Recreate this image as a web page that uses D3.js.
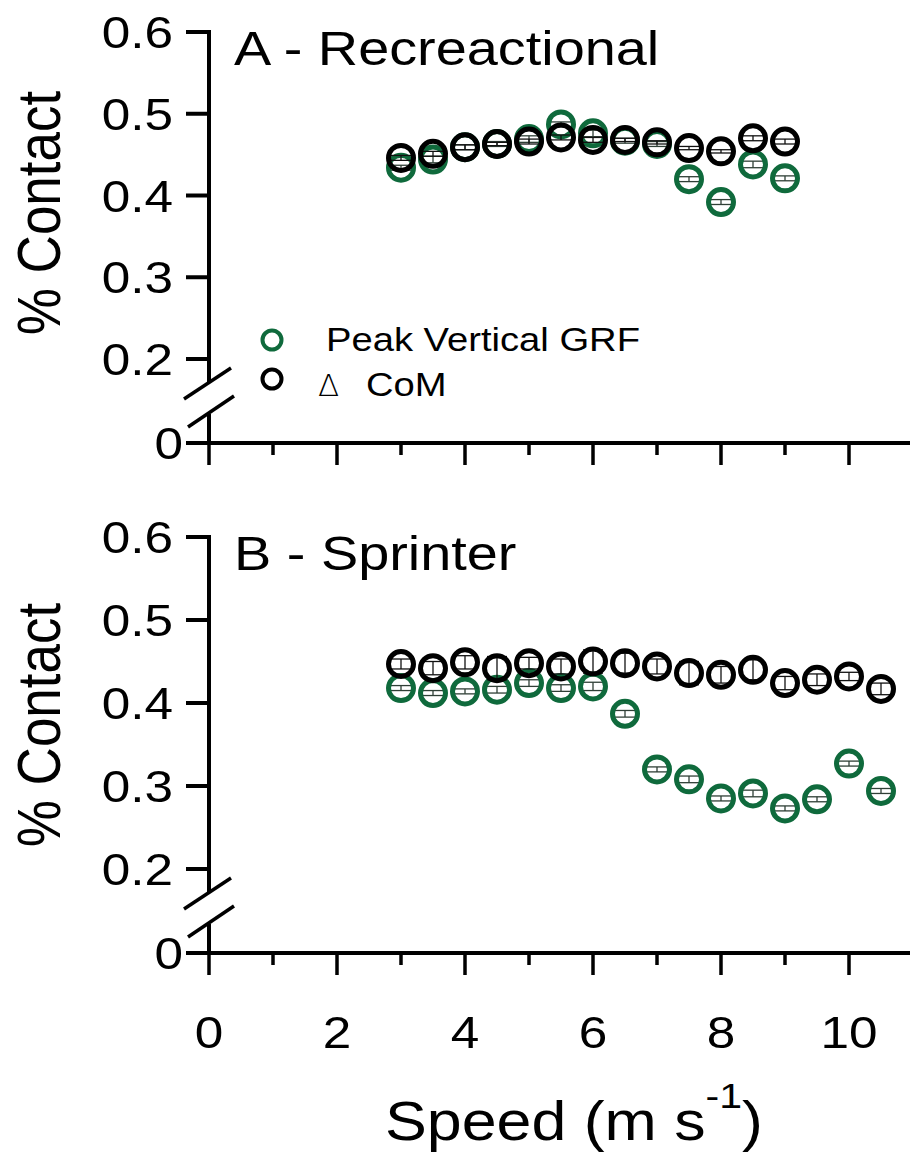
<!DOCTYPE html>
<html>
<head>
<meta charset="utf-8">
<script src="https://cdn.jsdelivr.net/npm/d3@7"></script>
<style>
  html, body { margin: 0; padding: 0; background: #fff; }
  svg { display: block; }
  text { font-family: "Liberation Sans", Arial, sans-serif; fill: #000; }
</style>
</head>
<body>
<div id="chart"></div>
<script>
// ---------------- Data ----------------
const speedsA = [3, 3.5, 4, 4.5, 5, 5.5, 6, 6.5, 7, 7.5, 8, 8.5, 9];
const grfA    = [0.434, 0.444, 0.459, 0.463, 0.469, 0.487, 0.476, 0.467, 0.463, 0.420, 0.392, 0.438, 0.421];
const grfAErr = [0.003, 0.004, 0.003, 0.003, 0.004, 0.003, 0.004, 0.003, 0.003, 0.003, 0.003, 0.004, 0.003];
const comA    = [0.446, 0.451, 0.459, 0.463, 0.466, 0.471, 0.468, 0.468, 0.465, 0.458, 0.454, 0.470, 0.466];
const comAErr = [0.003, 0.003, 0.003, 0.002, 0.003, 0.003, 0.003, 0.002, 0.002, 0.002, 0.002, 0.003, 0.003];

const speedsB = [3, 3.5, 4, 4.5, 5, 5.5, 6, 6.5, 7, 7.5, 8, 8.5, 9, 9.5, 10, 10.5];
const grfB    = [0.418, 0.412, 0.414, 0.416, 0.424, 0.418, 0.420, 0.387, 0.320, 0.308, 0.285, 0.291, 0.273, 0.284, 0.327, 0.294];
const grfBErr = [0.003, 0.003, 0.003, 0.004, 0.004, 0.004, 0.005, 0.004, 0.003, 0.004, 0.003, 0.004, 0.003, 0.003, 0.003, 0.003];
const comB    = [0.447, 0.442, 0.449, 0.442, 0.448, 0.444, 0.450, 0.448, 0.444, 0.436, 0.434, 0.440, 0.424, 0.428, 0.432, 0.417];
const comBErr = [0.006, 0.008, 0.008, 0.014, 0.007, 0.009, 0.014, 0.012, 0.009, 0.014, 0.010, 0.012, 0.008, 0.007, 0.005, 0.007];

const yTicks = [0, 0.2, 0.3, 0.4, 0.5, 0.6];
const yTickLabels = ["0", "0.2", "0.3", "0.4", "0.5", "0.6"];
const xMajorTicks = [0, 2, 4, 6, 8, 10];
const xMinorTicks = [1, 3, 5, 7, 9];
const xTickLabels = ["0", "2", "4", "6", "8", "10"];
const panelTitles = ["A - Recreactional", "B - Sprinter"];
const legendLabels = ["Peak Vertical GRF", "CoM"];
const yAxisTitle = "% Contact";

// ---------------- Style / layout ----------------
const W = 910, H = 1167;
const GREEN = "#0f6a3c";
const SX = 1.14; // horizontal text stretch seen in the figure
const AXW = 4;

const svg = d3.select("#chart").append("svg")
  .attr("width", W).attr("height", H)
  .style("background", "#fff");

const x = d3.scaleLinear().domain([0, 11]).range([209, 913]);

function sText(g, px, py, str, size, anchor, rot) {
  const t = g.append("text")
    .attr("transform", `translate(${px},${py}) scale(${SX},1)` + (rot ? ` rotate(${rot})` : ""))
    .attr("text-anchor", anchor || "start")
    .attr("font-size", size)
    .text(str);
  return t;
}

const panels = [
  { top: 32, bottom: 443, title: panelTitles[0], sp: speedsA, grf: grfA, grfE: grfAErr, com: comA, comE: comAErr, legend: true, xlabels: false, ylabelY: 213 },
  { top: 537, bottom: 953, title: panelTitles[1], sp: speedsB, grf: grfB, grfE: grfBErr, com: comB, comE: comBErr, legend: false, xlabels: true, ylabelY: 725 }
];

panels.forEach(p => {
  const g = svg.append("g");
  const y = d3.scaleLinear()
    .domain([0, 0.2, 0.6])
    .range([p.bottom, p.bottom - 84, p.top]);
  const x0 = x(0), y0 = y(0);

  // x axis line
  g.append("line").attr("x1", x0 - 2).attr("x2", W + 5)
    .attr("y1", y0).attr("y2", y0)
    .attr("stroke", "#000").attr("stroke-width", AXW);
  // x ticks
  g.selectAll(".xmaj").data(xMajorTicks).join("line")
    .attr("x1", d => x(d)).attr("x2", d => x(d))
    .attr("y1", y0).attr("y2", y0 + 22)
    .attr("stroke", "#000").attr("stroke-width", 3.5);
  g.selectAll(".xmin").data(xMinorTicks).join("line")
    .attr("x1", d => x(d)).attr("x2", d => x(d))
    .attr("y1", y0).attr("y2", y0 + 12)
    .attr("stroke", "#000").attr("stroke-width", 3.5);

  // y axis (broken)
  g.append("line").attr("x1", x0).attr("x2", x0)
    .attr("y1", y(0.6) - AXW / 2).attr("y2", y0 - 61)
    .attr("stroke", "#000").attr("stroke-width", AXW);
  g.append("line").attr("x1", x0).attr("x2", x0)
    .attr("y1", y0 - 29).attr("y2", y0)
    .attr("stroke", "#000").attr("stroke-width", AXW);
  // break marks
  g.append("line").attr("x1", x0 - 25).attr("y1", y0 - 44)
    .attr("x2", x0 + 22).attr("y2", y0 - 75)
    .attr("stroke", "#000").attr("stroke-width", 3.5);
  g.append("line").attr("x1", x0 - 21).attr("y1", y0 - 16)
    .attr("x2", x0 + 25).attr("y2", y0 - 47)
    .attr("stroke", "#000").attr("stroke-width", 3.5);

  // y ticks
  g.selectAll(".ytick").data(yTicks).join("line")
    .attr("x1", x0 - 23).attr("x2", x0)
    .attr("y1", d => y(d)).attr("y2", d => y(d))
    .attr("stroke", "#000").attr("stroke-width", AXW);
  yTicks.forEach((d, i) => {
    sText(g, x0 - 36 + (d === 0 ? 10 : 0), y(d) + 16, yTickLabels[i], 45, "end");
  });

  // y axis title
  sText(g, 60, p.ylabelY, yAxisTitle, 53, "middle", -90);

  // panel title
  sText(g, 234, p.top + 33, p.title, 49, "start");

  // x tick labels
  if (p.xlabels) {
    xMajorTicks.forEach((d, i) => {
      sText(g, x(d), 1048, xTickLabels[i], 45, "middle");
    });
  }

  // series
  const series = [
    { vals: p.grf, err: p.grfE, color: GREEN, cap: 13, ecol: "#2f3f36" },
    { vals: p.com, err: p.comE, color: "#000", cap: 10, ecol: "#111" }
  ];
  series.forEach(s => {
    const sg = g.append("g");
    p.sp.forEach((sp, i) => {
      const cx = x(sp), v = s.vals[i], e = s.err[i];
      sg.append("line").attr("x1", cx).attr("x2", cx)
        .attr("y1", y(v - e)).attr("y2", y(v + e))
        .attr("stroke", s.ecol).attr("stroke-width", 1.3);
      [v - e, v + e].forEach(ev => {
        sg.append("line").attr("x1", cx - s.cap).attr("x2", cx + s.cap)
          .attr("y1", y(ev)).attr("y2", y(ev))
          .attr("stroke", s.ecol).attr("stroke-width", 1.3);
      });
    });
    sg.selectAll("circle").data(p.sp).join("circle")
      .attr("cx", d => x(d))
      .attr("cy", (d, i) => y(s.vals[i]))
      .attr("r", 12.5)
      .attr("fill", "none")
      .attr("stroke", s.color)
      .attr("stroke-width", 5);
  });

  // legend
  if (p.legend) {
    const lg = g.append("g");
    lg.append("circle").attr("cx", 272).attr("cy", 340).attr("r", 9.5)
      .attr("fill", "none").attr("stroke", GREEN).attr("stroke-width", 4);
    lg.append("circle").attr("cx", 272).attr("cy", 379).attr("r", 9.5)
      .attr("fill", "none").attr("stroke", "#000").attr("stroke-width", 4);
    sText(lg, 326, 351, legendLabels[0], 33.5, "start");
    lg.append("text")
      .attr("transform", "translate(318,396)")
      .style("font-family", "'DejaVu Sans', sans-serif")
      .style("font-size", "31px")
      .style("font-weight", "200")
      .text("\u0394");
    sText(lg, 366, 396, legendLabels[1], 33.5, "start");
  }
});

// x axis title with superscript
const xt = svg.append("text")
  .attr("transform", `translate(574,1140) scale(${SX},1)`)
  .attr("text-anchor", "middle")
  .attr("font-size", 55);
xt.append("tspan").text("Speed (m s");
xt.append("tspan").attr("font-size", 36).attr("dy", -32).text("-1");
xt.append("tspan").attr("dy", 32).text(")");
</script>
</body>
</html>
